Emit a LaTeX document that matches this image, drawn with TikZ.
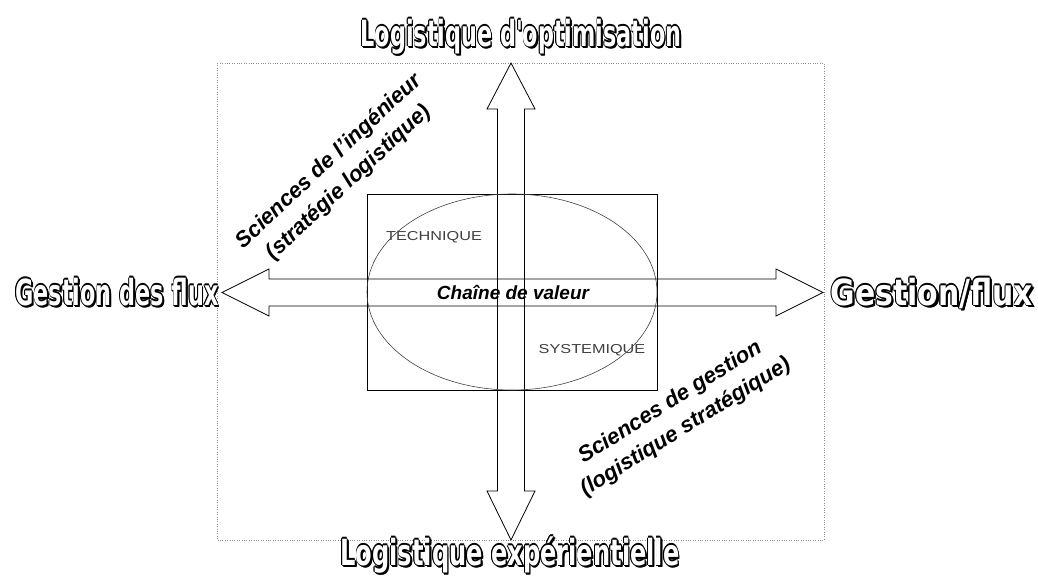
\documentclass[tikz,border=0pt]{standalone}
\usepackage{fontspec}
\usepackage{graphicx}
\setmainfont{Liberation Sans}
\newfontfamily\titlefont{DejaVu Sans}
\newfontfamily\widefont[FakeStretch=1.25]{Liberation Sans}
% one shifted copy of a text, taking no width
\newcommand\shiftcopy[3]{\makebox[0pt][l]{\kern#1\raisebox{#2}{#3}}}
% white letters, black rim, black shadow
\newcommand\outlined[1]{%
  \shiftcopy{2.6pt}{-2.6pt}{#1}\shiftcopy{1.8pt}{-2.4pt}{#1}\shiftcopy{2.4pt}{-1.6pt}{#1}%
  \shiftcopy{1.1pt}{0pt}{#1}\shiftcopy{-1.1pt}{0pt}{#1}%
  \shiftcopy{0pt}{1.1pt}{#1}\shiftcopy{0pt}{-1.1pt}{#1}%
  \shiftcopy{.8pt}{.8pt}{#1}\shiftcopy{-.8pt}{.8pt}{#1}%
  \shiftcopy{.8pt}{-.8pt}{#1}\shiftcopy{-.8pt}{-.8pt}{#1}%
  \textcolor{white}{#1}}
\newcommand\bigtitle[2]{\scalebox{#1}[1]{\outlined{#2}}}
\tikzset{
  bigname/.style={font=\titlefont\bfseries\fontsize{36}{40}\selectfont, inner sep=0pt, anchor=base},
  slanted/.style={font=\bfseries\itshape\fontsize{22}{29}\selectfont, align=center, inner sep=0pt},
  field/.style={font=\widefont\fontsize{13}{15}\selectfont, text=black!75, inner sep=0pt},
  dotframe/.style={draw=black!45, dotted},
  shapeline/.style={draw=black, line width=0.8pt, line join=miter},
}
\begin{document}
\begin{tikzpicture}[x=1pt,y=-1pt]
  \useasboundingbox (0,0) rectangle (1038,576);
  \draw[dotframe] (217,63) rectangle (824,540);
  % the two block arrows
  \draw[shapeline] (222,292.5) -- (269,269) -- (269,279) -- (776,279) -- (776,269)
    -- (823,292.5) -- (776,316) -- (776,306) -- (269,306) -- (269,316) -- cycle;
  \draw[shapeline] (511,63) -- (535,109) -- (524.5,109) -- (524.5,491) -- (535,491)
    -- (511,540) -- (487,491) -- (497.5,491) -- (497.5,109) -- (487,109) -- cycle;
  \draw[shapeline] (367,194) rectangle (657,390);
  \draw[black!75, line width=0.6pt] (512,292) ellipse [x radius=145, y radius=98];
  % labels
  \draw
    (521,46) node[bigname] (optim) {\bigtitle{0.62}{Logistique d'optimisation}}
    (510,565) node[bigname] (experi) {\bigtitle{0.67}{Logistique expérientielle}}
    (117,305) node[bigname] (fluxwest) {\bigtitle{0.62}{Gestion des flux}}
    (932,305) node[bigname] (fluxeast) {\bigtitle{0.83}{Gestion/flux}};
  \draw
    (434,237) node[field] (technique) {TECHNIQUE}
    (592,350) node[field] (systemique) {SYSTEMIQUE}
    (513,292) node[font=\bfseries\itshape\fontsize{19}{22}\selectfont, inner sep=0pt] (chaine) {Chaîne de valeur};
  \draw
    (339,172) node[slanted, rotate=43] (ingenieur) {Sciences de l'ingénieur\\(stratégie logistique)}
    (678,415) node[slanted, rotate=32] (gestion) {Sciences de gestion\\(logistique stratégique)};
\end{tikzpicture}
\end{document}
